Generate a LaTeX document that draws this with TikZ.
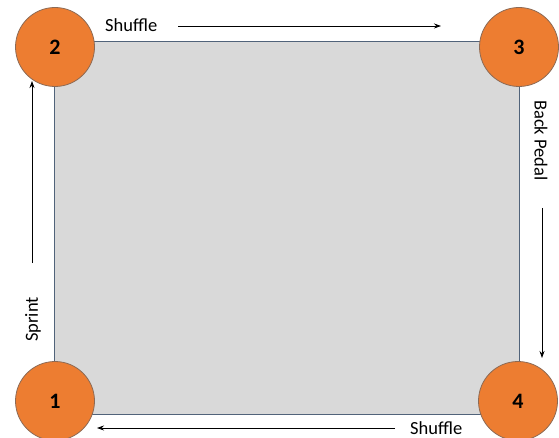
\documentclass[tikz,border=0pt]{standalone}
\usepackage{fontspec}
\setmainfont{Carlito}
\usetikzlibrary{arrows.meta}
\definecolor{corner}{HTML}{ED7D31}
\definecolor{cornerline}{HTML}{8C6A55}
\definecolor{field}{HTML}{D9D9D9}
\definecolor{fieldline}{HTML}{51637A}
\begin{document}
\begin{tikzpicture}[x=1pt,y=-1pt,
  cornerball/.style={circle,fill=corner,draw=cornerline,line width=0.8pt,minimum size=79pt,inner sep=0pt,font=\fontsize{22}{26}\selectfont\bfseries},
  lbl/.style={font=\fontsize{18.5}{22}\selectfont,inner sep=0pt},
  mv/.style={-{Stealth[length=7pt,width=5pt]},line width=0.8pt}]
\useasboundingbox (0,0) rectangle (559,438);
\node[draw=fieldline,fill=field,line width=0.8pt,minimum width=465pt,minimum height=373pt,inner sep=0pt,anchor=north west] (field) at (54,41) {};
\node[cornerball] (c2) at (55,47) {2};
\node[cornerball] (c3) at (519,47) {3};
\node[cornerball] (c1) at (55,401) {1};
\node[cornerball] (c4) at (518,401) {4};
\node[lbl,anchor=west] (t1) at (105,25) {Shuffle};
\coordinate (a1s) at (178,26); \coordinate (a1e) at (441,26);
\draw[mv] (a1s) -- (a1e);
\node[lbl,rotate=-90,anchor=west] (t2) at (541,100) {Back Pedal};
\coordinate (a2s) at (542,208); \coordinate (a2e) at (542,358);
\draw[mv] (a2s) -- (a2e);
\node[lbl,anchor=west] (t3) at (410,428) {Shuffle};
\coordinate (a3s) at (395,428); \coordinate (a3e) at (97,428);
\draw[mv] (a3s) -- (a3e);
\node[lbl,rotate=90,anchor=west] (t4) at (33,342) {Sprint};
\coordinate (a4s) at (32,263); \coordinate (a4e) at (32,81);
\draw[mv] (a4s) -- (a4e);
\end{tikzpicture}
\end{document}
